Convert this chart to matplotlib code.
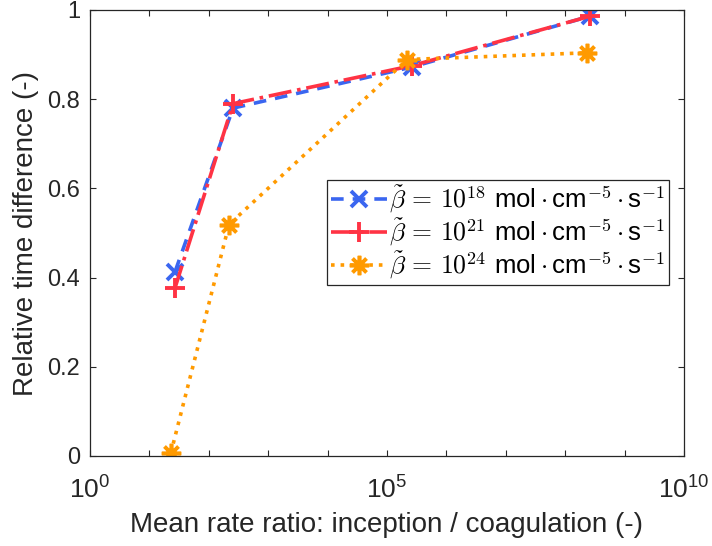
import numpy as np
import matplotlib
matplotlib.use('Agg')
import matplotlib.pyplot as plt

plt.rcParams['font.family'] = ['Liberation Sans', 'DejaVu Sans']
plt.rcParams['mathtext.fontset'] = 'cm'

# data
ratio_18 = [27, 256, 2.6e5, 2.6e8]
ratio_21 = [27, 256, 2.6e5, 2.6e8]
ratio_24 = [23, 219, 2.2e5, 2.3e8]
diff_18 = [0.413, 0.780, 0.872, 0.986]
diff_21 = [0.377, 0.790, 0.875, 0.986]
diff_24 = [0.007, 0.519, 0.889, 0.904]
exps = ['18', '21', '24']
labels = [r'$\tilde{\beta}\,=\,10^{%s}\ \mathregular{mol}\cdot\mathregular{cm}^{-5}\cdot\mathregular{s}^{-1}$' % e
          for e in exps]
xtick_vals = [1, 1e5, 1e10]
xtick_labels = [r'$\mathregular{10^{0}}$', r'$\mathregular{10^{5}}$', r'$\mathregular{10^{10}}$']
ytick_labels = ['0', '0.2', '0.4', '0.6', '0.8', '1']

fig = plt.figure(figsize=(7.12, 5.46), dpi=100)
ax = fig.add_axes([90 / 712, 1 - 456 / 546, 594 / 712, 446 / 546])

ax.plot(ratio_18, diff_18, linestyle='--', marker='x', color='#3a66f0', lw=2.6, ms=11, mew=2.8,
        dashes=(3.5, 2.5), label=labels[0])
ax.plot(ratio_21, diff_21, linestyle='-.', marker='+', color='#ff3344', lw=2.6, ms=14, mew=2.8,
        label=labels[1])
ax.plot(ratio_24, diff_24, linestyle=':', marker=(8, 2, 0), color='#ff9a00', lw=2.6, ms=14, mew=2.6,
        label=labels[2])

ax.set_xscale('log')
ax.set_xlim(1, 1e10)
ax.set_ylim(0, 1)
ax.set_xticks(xtick_vals)
ax.set_xticklabels(xtick_labels, fontsize=19)
ax.set_xticks([10.0 ** k for k in range(11)], minor=True)
ax.xaxis.set_minor_formatter(matplotlib.ticker.NullFormatter())
ax.set_yticks(np.linspace(0, 1, 6))
ax.set_yticklabels(ytick_labels, fontsize=17)

ax.tick_params(which='both', direction='in', top=True, right=True, colors='#262626',
               length=4, width=0.8)
ax.tick_params(axis='x', which='both', pad=15)
ax.tick_params(axis='y', which='both', pad=7)
for s in ax.spines.values():
    s.set_color('#262626')
    s.set_linewidth(0.9)

ax.set_xlabel('Mean rate ratio: inception / coagulation (-)', fontsize=20, color='#262626', labelpad=6)
ax.set_ylabel('Relative time difference (-)', fontsize=20, color='#262626', labelpad=6)

leg = ax.legend(loc='upper left', bbox_to_anchor=(0.399, 0.619), fontsize=18.5, fancybox=False,
                framealpha=1, edgecolor='#262626', handlelength=2.2, handletextpad=0.05,
                borderpad=0.15, labelspacing=0.05, borderaxespad=0)
leg.get_frame().set_linewidth(0.9)

fig.savefig('out.png', dpi=100)
